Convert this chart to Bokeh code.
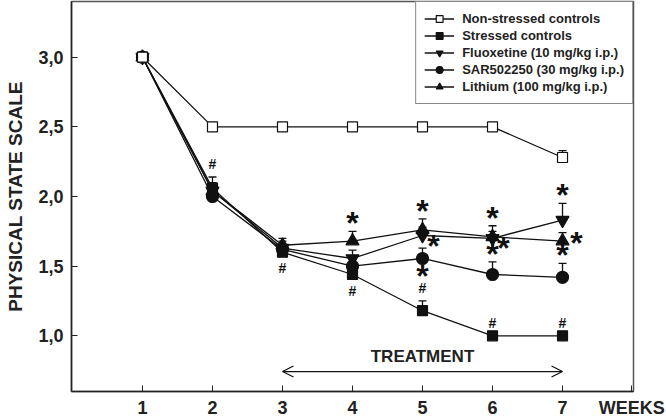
from bokeh.plotting import figure
from bokeh.models import Range1d, FixedTicker, Label, Arrow, OpenHead
from bokeh.core.properties import value
from bokeh.embed import file_html
from bokeh.resources import INLINE

# ---------------- data ----------------
weeks = [1, 2, 3, 4, 5, 6, 7]
week_labels = ["1", "2", "3", "4", "5", "6", "7"]
x_title = "WEEKS"
y_ticks = [1.0, 1.5, 2.0, 2.5, 3.0]
y_tick_labels = ["1,0", "1,5", "2,0", "2,5", "3,0"]

nonstressed = [3.0, 2.5, 2.5, 2.5, 2.5, 2.5, 2.28]
nonstressed_err = [0.02, 0.0, 0.0, 0.0, 0.0, 0.0, 0.05]
stressed = [3.0, 2.06, 1.60, 1.44, 1.18, 1.0, 1.0]
stressed_err = [0.0, 0.08, 0.04, 0.04, 0.07, 0.0, 0.0]
fluoxetine = [3.0, 2.04, 1.63, 1.555, 1.72, 1.70, 1.83]
fluoxetine_err = [0.0, 0.06, 0.05, 0.06, 0.06, 0.05, 0.12]
sar502250 = [3.0, 2.00, 1.62, 1.50, 1.555, 1.44, 1.42]
sar502250_err = [0.0, 0.05, 0.04, 0.05, 0.075, 0.09, 0.10]
lithium = [3.0, 2.04, 1.65, 1.68, 1.76, 1.71, 1.68]
lithium_err = [0.0, 0.06, 0.05, 0.07, 0.08, 0.08, 0.06]

series_names = ["Non-stressed controls", "Stressed controls", "Fluoxetine (10 mg/kg i.p.)",
                "SAR502250 (30 mg/kg i.p.)", "Lithium (100 mg/kg i.p.)"]

# significance marks: (series key, week, placement)
star_marks = [("lithium", 4, "above"), ("lithium", 5, "above"), ("lithium", 6, "above"),
              ("fluoxetine", 7, "above"), ("sar", 6, "above"), ("sar", 7, "above"),
              ("fluoxetine", 5, "right_low"), ("fluoxetine", 6, "right_low"),
              ("lithium", 7, "right"), ("sar", 5, "below")]
hash_marks = [("stressed", 2, "above"), ("stressed", 3, "below"), ("stressed", 4, "below"),
              ("stressed", 5, "above"), ("stressed", 6, "above"), ("stressed", 7, "above")]

treatment_start, treatment_end = 3, 7

FONT = "Liberation Sans"
INK = "#111111"

p = figure(width=666, height=420, output_backend="svg", toolbar_location=None,
           x_range=Range1d(-0.014, 8.014), y_range=Range1d(0.6, 3.4),
           min_border_left=71, min_border_right=33, min_border_top=1, min_border_bottom=27)
p.grid.visible = False
p.background_fill_color = "white"
p.border_fill_color = "white"
p.outline_line_color = "#555555"
p.outline_line_width = 1.5

# axes
x_title_pos = 7.99
p.xaxis.ticker = FixedTicker(ticks=weeks + [x_title_pos])
overrides = {w: l for w, l in zip(weeks, week_labels)}
overrides[x_title_pos] = x_title
p.xaxis.major_label_overrides = overrides
p.yaxis.ticker = FixedTicker(ticks=y_ticks)
p.yaxis.major_label_overrides = {t: l for t, l in zip(y_ticks, y_tick_labels)}
for ax in (p.xaxis[0], p.yaxis[0]):
    ax.axis_line_color = "#222222"
    ax.axis_line_width = 1.5
    ax.major_tick_in = 6
    ax.major_tick_out = 0
    ax.major_tick_line_color = "#222222"
    ax.minor_tick_line_color = None
    ax.major_label_text_font = FONT
    ax.major_label_text_font_style = "bold"
    ax.major_label_text_font_size = "18px"
    ax.major_label_text_color = "#222222"
p.xaxis.major_label_standoff = 6
p.yaxis.major_label_standoff = 8
p.yaxis.axis_label = "PHYSICAL STATE SCALE"
p.yaxis.axis_label_text_font = FONT
p.yaxis.axis_label_text_font_style = "bold"
p.yaxis.axis_label_text_font_size = "19px"
p.yaxis.axis_label_text_color = "#222222"
p.yaxis.axis_label_standoff = 9

data = {
    "nonstressed": (nonstressed, nonstressed_err, "square", "white", 10),
    "stressed": (stressed, stressed_err, "square", INK, 10),
    "fluoxetine": (fluoxetine, fluoxetine_err, "inverted_triangle", INK, 13),
    "sar": (sar502250, sar502250_err, "circle", INK, 12),
    "lithium": (lithium, lithium_err, "triangle", INK, 13),
}
keys = ["nonstressed", "stressed", "fluoxetine", "sar", "lithium"]
draw_order = ["lithium", "fluoxetine", "sar", "stressed", "nonstressed"]

# lines first (legend order)
for k, name in zip(keys, series_names):
    vals = data[k][0]
    p.line(weeks, vals, line_color=INK, line_width=1.3, legend_label=name)

# error bars
for k in draw_order:
    vals, errs, marker, fill, size = data[k]
    xs = [w for w, e in zip(weeks, errs) if e > 0]
    y0 = [v for v, e in zip(vals, errs) if e > 0]
    y1 = [v + e for v, e in zip(vals, errs) if e > 0]
    p.segment(xs, y0, xs, y1, line_color=INK, line_width=1.3)
    p.scatter(xs, y1, marker="dash", size=8, line_color=INK, line_width=1.3)

# markers
names = dict(zip(keys, series_names))
for k in draw_order:
    vals, errs, marker, fill, size = data[k]
    p.scatter(weeks, vals, marker=marker, size=size, fill_color=fill,
              line_color=INK, line_width=1.2, legend_label=names[k])

# significance marks
def mark_pos(key, week):
    vals, errs, *_ = data[key]
    i = weeks.index(week)
    return vals[i], errs[i]

for placement, dx, dy in [("above", 0, -8), ("right_low", 11, 10), ("right", 14, 2), ("below", 0, 18)]:
    xs, ys = [], []
    for key, w, pl in star_marks:
        if pl != placement:
            continue
        v, e = mark_pos(key, w)
        xs.append(w)
        ys.append(v + e if pl == "above" else v)
    if xs:
        p.text(xs, ys, text=["*"] * len(xs), text_font=value(FONT), text_font_style="bold",
               text_font_size="32px", text_align="center", text_baseline="middle",
               x_offset=dx, y_offset=dy, text_color=INK)

for placement, dy in [("above", -13), ("below", 16)]:
    xs, ys = [], []
    for key, w, pl in hash_marks:
        if pl != placement:
            continue
        v, e = mark_pos(key, w)
        xs.append(w)
        ys.append(v + e if pl == "above" else v)
    p.text(xs, ys, text=["#"] * len(xs), text_font=value(FONT), text_font_style="bold",
           text_font_size="14px", text_align="center", text_baseline="middle",
           y_offset=dy, text_color=INK)

# treatment arrow
arrow_y = 0.743
p.add_layout(Arrow(x_start=treatment_start, x_end=treatment_end, y_start=arrow_y, y_end=arrow_y,
                   start=OpenHead(size=11, line_width=1.2, line_color=INK),
                   end=OpenHead(size=11, line_width=1.2, line_color=INK),
                   line_width=1.2, line_color=INK))
p.add_layout(Label(x=(treatment_start + treatment_end) / 2, y=arrow_y, text="TREATMENT",
                   text_font=FONT, text_font_style="bold", text_font_size="17px",
                   text_align="center", text_baseline="bottom", y_offset=6,
                   text_color="#222222"))

# legend
lg = p.legend[0]
lg.location = "top_right"
lg.margin = 0
lg.border_line_color = INK
lg.border_line_width = 1.3
lg.background_fill_color = "white"
lg.background_fill_alpha = 1
lg.label_text_font = FONT
lg.label_text_font_style = "bold"
lg.label_text_font_size = "13px"
lg.label_text_color = "#222222"
lg.label_height = 17
lg.glyph_height = 17
lg.glyph_width = 30
lg.label_standoff = 8
lg.spacing = 0
lg.padding = 8

open("out.html", "w").write(file_html(p, INLINE))
